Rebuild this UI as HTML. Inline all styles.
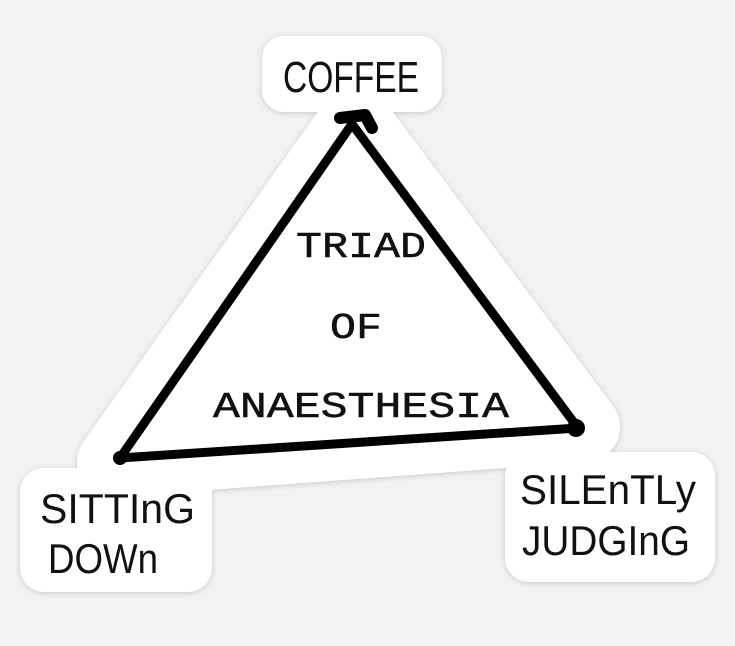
<!DOCTYPE html>
<html><head><style>
html,body{margin:0;padding:0;background:#f2f2f2;}
svg{display:block}
</style></head><body>
<svg width="735" height="646" viewBox="0 0 735 646" xmlns="http://www.w3.org/2000/svg">
<defs>
<filter id="sh" x="-10%" y="-10%" width="120%" height="120%">
<feDropShadow dx="0" dy="1" stdDeviation="3" flood-color="#000" flood-opacity="0.18"/>
</filter>
</defs>
<rect width="735" height="646" fill="#f2f2f2"/>
<g fill="#fff" stroke="#fff" filter="url(#sh)">
<polygon points="355,120 112,462 585,427" stroke-width="70" stroke-linejoin="round"/>
<rect x="262" y="36" width="180" height="76" rx="22" stroke-width="0"/>
<rect x="20" y="468" width="192" height="124" rx="24" stroke-width="0"/>
<rect x="505" y="452" width="210" height="130" rx="24" stroke-width="0"/>
</g>
<g fill="none" stroke="#000" stroke-linejoin="round" stroke-linecap="round">
<polygon points="352,124 120,458 578,428" stroke-width="9"/>
<path d="M340,118 L365,115 L372,128" stroke-width="12"/>
<path d="M400,440 L570,430" stroke-width="4"/>
</g>
<circle cx="576" cy="428" r="9" fill="#000"/>
<circle cx="120" cy="458" r="7" fill="#000"/>
<g font-family="'Liberation Sans Narrow','Liberation Sans',sans-serif" fill="#111">
<text x="351" y="92" font-size="44" text-anchor="middle" textLength="136" lengthAdjust="spacingAndGlyphs">COFFEE</text>
<text x="40" y="523" font-size="42" textLength="155" lengthAdjust="spacingAndGlyphs">SITTInG</text>
<text x="48" y="573" font-size="42" textLength="110" lengthAdjust="spacingAndGlyphs">DOWn</text>
<text x="520" y="504" font-size="42" textLength="176" lengthAdjust="spacingAndGlyphs">SILEnTLy</text>
<text x="522" y="555" font-size="42" textLength="168" lengthAdjust="spacingAndGlyphs">JUDGInG</text>
</g>
<g font-family="'Liberation Mono',monospace" fill="#111" stroke="#111" stroke-width="0.5" font-size="36">
<text x="296" y="257" textLength="130" lengthAdjust="spacingAndGlyphs">TRIAD</text>
<text x="330" y="338" textLength="52" lengthAdjust="spacingAndGlyphs">OF</text>
<text x="213" y="417" textLength="296" lengthAdjust="spacingAndGlyphs">ANAESTHESIA</text>
</g>
</svg>
</body></html>
